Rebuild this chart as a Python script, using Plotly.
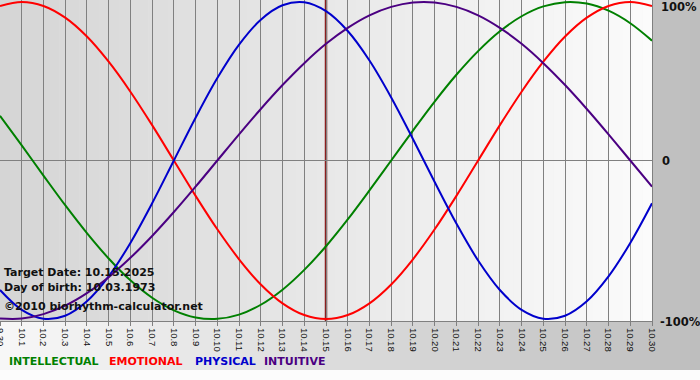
import plotly.graph_objects as go

# ---------------- data ----------------
days = ["9.30", "10.1", "10.2", "10.3", "10.4", "10.5", "10.6", "10.7", "10.8", "10.9",
        "10.10", "10.11", "10.12", "10.13", "10.14", "10.15", "10.16", "10.17", "10.18",
        "10.19", "10.20", "10.21", "10.22", "10.23", "10.24", "10.25", "10.26", "10.27",
        "10.28", "10.29", "10.30"]

intellectual = [0.282, 0.095, -0.095, -0.282, -0.458, -0.618, -0.756, -0.866, -0.945, -0.990,
                -0.999, -0.972, -0.910, -0.815, -0.690, -0.541, -0.372, -0.189, 0.000, 0.189,
                0.372, 0.541, 0.690, 0.815, 0.910, 0.972, 0.999, 0.990, 0.945, 0.866, 0.756]
emotional = [0.975, 1.000, 0.975, 0.901, 0.782, 0.623, 0.434, 0.223, 0.000, -0.223,
             -0.434, -0.623, -0.782, -0.901, -0.975, -1.000, -0.975, -0.901, -0.782, -0.623,
             -0.434, -0.223, 0.000, 0.223, 0.434, 0.623, 0.782, 0.901, 0.975, 1.000, 0.975]
physical = [-0.817, -0.942, -0.998, -0.979, -0.888, -0.731, -0.520, -0.270, 0.000, 0.270,
            0.520, 0.731, 0.888, 0.979, 0.998, 0.942, 0.817, 0.631, 0.398, 0.136,
            -0.136, -0.398, -0.631, -0.817, -0.942, -0.998, -0.979, -0.888, -0.731, -0.520, -0.270]
intuitive = [-0.997, -0.997, -0.969, -0.916, -0.837, -0.736, -0.614, -0.476, -0.325, -0.165,
             0.000, 0.165, 0.325, 0.476, 0.614, 0.736, 0.837, 0.916, 0.969, 0.997,
             0.997, 0.969, 0.916, 0.837, 0.736, 0.614, 0.476, 0.325, 0.165, 0.000, -0.165]

series_names = ["INTELLECTUAL", "EMOTIONAL", "PHYSICAL", "INTUITIVE"]
series_values = [intellectual, emotional, physical, intuitive]
series_colors = ["#008000", "#ff0000", "#0000cc", "#4b0082"]

y_tick_vals = [1, 0, -1]
y_tick_text = ["100%", "0", "-100%"]

target_day = "10.15"
info_lines = ["Target Date: 10.15.2025", "Day of birth: 10.03.1973", "©2010 biorhythm-calculator.net"]

# ---------------- layout geometry ----------------
W, H = 700, 380
ML, MR, MT, MB = 0, 48, 0, 59
PW, PH = W - ML - MR, H - MT - MB


def px_x(px):
    return (px - ML) / PW


def px_y(py):
    return (PH - (py - MT)) / PH


fig = go.Figure()

for name, vals, col in zip(series_names, series_values, series_colors):
    fig.add_trace(go.Scatter(x=days, y=vals, mode="lines", name=name,
                             line=dict(color=col, width=2, shape="spline", smoothing=1.0),
                             hoverinfo="skip", showlegend=False))

shapes = []


def gradient(x0, x1, y0, y1, c0, c1, n):
    step = (x1 - x0) / n
    for i in range(n):
        t = i / (n - 1)
        v = round(c0 + (c1 - c0) * t)
        col = "rgb(%d,%d,%d)" % (v, v, v)
        shapes.append(dict(type="rect", xref="paper", yref="paper",
                           x0=px_x(x0 + i * step), x1=px_x(x0 + (i + 1) * step + 0.6),
                           y0=px_y(y1), y1=px_y(y0),
                           fillcolor=col, line=dict(width=0), layer="below"))


# outer grey band (margins) and the plot-area gradient
gradient(0, 700, 0, 370, 247, 190, 70)
gradient(0, PW, 0, PH, 213, 251, 66)

# target-day marker (category index of the target day on the x axis)
target_idx = days.index(target_day)
shapes.append(dict(type="line", xref="x", yref="paper", x0=target_idx, x1=target_idx,
                   y0=0, y1=1, line=dict(color="#8a1e1e", width=2.5), layer="between"))

annotations = []
bold = dict(family="DejaVu Sans", size=11.5, color="#111111", weight="bold")
right_label_py = [7, 161, 322]
right_label_shift = [7, 8, 6]
for txt, py, sh in zip(y_tick_text, right_label_py, right_label_shift):
    annotations.append(dict(text=txt, xref="paper", yref="paper", x=1, y=px_y(py),
                            xanchor="left", yanchor="middle", xshift=sh, showarrow=False,
                            font=bold))

info_py = [272, 287, 306]
for txt, py in zip(info_lines, info_py):
    annotations.append(dict(text=txt, xref="paper", yref="paper", x=0, y=px_y(py),
                            xanchor="left", yanchor="middle", xshift=2, showarrow=False,
                            font=dict(family="DejaVu Sans", size=11, color="#111111", weight="bold")))

legend_px = [7, 107, 193, 262]
for name, col, lx in zip(series_names, series_colors, legend_px):
    annotations.append(dict(text=name, xref="paper", yref="paper", x=px_x(lx), y=px_y(362),
                            xanchor="left", yanchor="middle", showarrow=False,
                            font=dict(family="DejaVu Sans", size=11, color=col, weight="bold")))

fig.update_layout(
    width=W, height=H,
    margin=dict(l=ML, r=MR, t=MT, b=MB, pad=0, autoexpand=False),
    paper_bgcolor="#fcfcfc",
    plot_bgcolor="rgba(0,0,0,0)",
    shapes=shapes,
    annotations=annotations,
    showlegend=False,
    xaxis=dict(type="category", range=[0, len(days) - 1], showgrid=True, automargin=False,
               gridcolor="#808080", gridwidth=1, showline=True, linecolor="#808080",
               linewidth=1, ticks="outside", ticklen=4, tickcolor="#808080",
               tickangle=90, tickfont=dict(family="Liberation Sans", size=9.5, color="#111111"),
               zeroline=False, fixedrange=True),
    yaxis=dict(range=[-1.0125, 1.0125], showgrid=False, zeroline=True, automargin=False,
               zerolinecolor="#808080", zerolinewidth=1, showline=True, mirror=True,
               linecolor="#808080", linewidth=1, showticklabels=False, ticks="",
               fixedrange=True),
)

fig.write_html("out.html", config={"displayModeBar": False},
               post_script=["document.body.style.margin='0px';"
                            "document.body.style.overflow='hidden';"])
